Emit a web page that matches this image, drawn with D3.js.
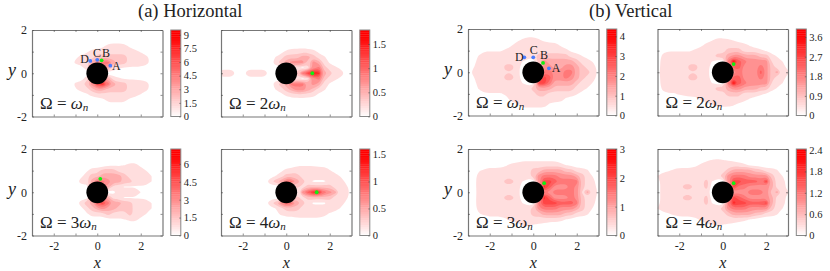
<!DOCTYPE html>
<meta charset="utf-8">
<style>
  body { margin: 0; background: #fff; }
  text { font-family: "Liberation Serif", serif; fill: #222; }
  .domain { stroke: #777; stroke-width: 1.2; }
  .tick line { stroke: #444; stroke-width: 0.6; }
</style>
<script src="https://d3js.org/d3.v7.min.js"></script>
<div id="chart"></div>
<script>
// Grid of the fields, in tenths of each colourbar's top
const gridX = [-3,-2.75,-2.5,-2.25,-2,-1.75,-1.5,-1.25,-1,-.75,-.5,-.25,0,.25,.5,.75,1,1.25,1.5,1.75,2,2.25,2.5,2.75,3];
const gridY = [1.75,1.5,1.25,1,.75,.5,.25,0,-.25,-.5,-.75,-1,-1.25,-1.5,-1.75];

const fieldA1 = [
[0,0,0,0,0,0,0,0,0,0,0,0,0,0,0,0,0,0,0,0,0,0,0,0,0],
[0,0,0,0,0,0,0,0,0,0,0,0,0,0,0,0,0,0,0,0,0,0,0,0,0],
[0,0,0,0,0,0,0,0,0,0,0,0,0,.3,.9,1,1,.9,.3,0,0,0,0,0,0],
[0,0,0,0,0,0,0,0,0,0,.3,.8,1,1,1,1,1,1,1,.8,.4,0,0,0,0],
[0,0,0,0,0,0,0,0,.3,.8,1,1,2,2,2,2,2,2,1,1,1,.7,.2,0,0],
[0,0,0,0,0,0,0,0,.7,1,1,3,4,5,5,3,2,2,1,1,1,.9,.2,0,0],
[0,0,0,0,0,0,0,0,0,0,1,3,4,4,3,1,.6,.4,.4,.4,.3,.1,0,0,0],
[0,0,0,0,0,0,0,0,0,0,0,0,0,0,0,0,0,0,0,0,0,0,0,0,0],
[0,0,0,0,0,0,0,0,0,0,1,3,4,4,3,1,.6,.4,.4,.4,.3,.1,0,0,0],
[0,0,0,0,0,0,0,0,.7,1,2,4,7,8,5,3,2,2,1,1,1,.9,.2,0,0],
[0,0,0,0,0,0,0,0,.4,.8,1,2,3,3,2,2,2,2,1,1,1,.7,.2,0,0],
[0,0,0,0,0,0,0,0,0,0,.3,.7,1,1,1,1,1,1,1,.8,.4,0,0,0,0],
[0,0,0,0,0,0,0,0,0,0,0,0,0,.2,.7,.8,.8,.7,.2,0,0,0,0,0,0],
[0,0,0,0,0,0,0,0,0,0,0,0,0,0,0,0,0,0,0,0,0,0,0,0,0],
[0,0,0,0,0,0,0,0,0,0,0,0,0,0,0,0,0,0,0,0,0,0,0,0,0]];

const fieldA2 = [
[0,0,0,0,0,0,0,0,0,0,0,0,0,0,0,0,0,0,0,0,0,0,0,0,0],
[0,0,0,0,0,0,0,0,0,0,0,0,0,0,0,0,0,0,0,0,0,0,0,0,0],
[0,0,0,0,0,0,0,0,0,0,0,0,0,0,0,0,0,0,0,0,0,0,0,0,0],
[0,0,0,0,0,0,0,0,0,0,0,.2,.7,1,1,1.2,1,.8,.3,0,0,0,0,0,0],
[0,0,0,0,0,0,0,0,0,0,.5,1,2,2,2,3,3,2,1,.6,.1,0,0,0,0],
[0,0,0,0,0,0,0,0,0,0,1,2,3,4,4,4,2,4,3,1,.4,0,0,0,0],
[0,0,0,0,0,0,0,0,0,0,0,0,0,0,1,.2,1,4,5,2,1,.7,.3,0,0],
[1.4,1.4,1.4,0,0,1.4,1.4,1.4,1.4,0,0,0,0,0,2,5,7,9,8,3,2,1,1,.3,0],
[0,0,0,0,0,0,0,0,0,0,0,0,0,0,1,.2,1,4,5,2,1,.7,.3,0,0],
[0,0,0,0,0,0,0,0,0,0,1,2,3,5,5,5,3,4,3,1,.4,0,0,0,0],
[0,0,0,0,0,0,0,0,0,0,.5,1,2,3,4,4,3,2,1,.6,.1,0,0,0,0],
[0,0,0,0,0,0,0,0,0,0,0,.2,.7,1,1,1.2,1,.8,.3,0,0,0,0,0,0],
[0,0,0,0,0,0,0,0,0,0,0,0,0,0,0,0,0,0,0,0,0,0,0,0,0],
[0,0,0,0,0,0,0,0,0,0,0,0,0,0,0,0,0,0,0,0,0,0,0,0,0],
[0,0,0,0,0,0,0,0,0,0,0,0,0,0,0,0,0,0,0,0,0,0,0,0,0]];

const fieldA3 = [
[0,0,0,0,0,0,0,0,0,0,0,0,0,0,0,0,0,0,0,0,0,0,0,0,0],
[0,0,0,0,0,0,0,0,0,0,0,0,0,0,0,0,0,0,0,0,0,0,0,0,0],
[0,0,0,0,0,0,0,0,0,0,0,0,0,0,.3,.4,.4,.5,.8,.8,.3,0,0,0,0],
[0,0,0,0,0,0,0,0,0,0,.3,1,1,2,2,2,1,1,1,1,1,.5,0,0,0],
[0,0,0,0,0,0,0,0,0,.2,1,2,2,3,3,3,3,2,1,1,1,1,.5,0,0],
[0,0,0,0,0,0,0,0,0,1,1,3,5,5,4,3,3,2,2,1,1,1,.5,0,0],
[0,0,0,0,0,0,0,0,0,0,0,3,4,4,3,1,.8,.4,.4,.4,.4,.3,0,0,0],
[0,0,0,0,0,0,0,0,0,0,0,0,0,0,0,.2,1,1.2,1.2,1.2,.5,0,0,0,0],
[0,0,0,0,0,0,0,0,0,0,0,3,4,4,3,1,.8,.4,.4,.4,.4,.3,0,0,0],
[0,0,0,0,0,0,0,0,0,1,2,3,6,7,5,3,3,2,2,1,1,1,.5,0,0],
[0,0,0,0,0,0,0,0,0,.2,1,2,3,4,3,3,2,2,2,1,1,1,.5,0,0],
[0,0,0,0,0,0,0,0,0,0,.3,1,1,1,2,1,1,1,2,1,1,.5,0,0,0],
[0,0,0,0,0,0,0,0,0,0,0,0,0,0,.3,.4,.4,.5,.8,.8,.3,0,0,0,0],
[0,0,0,0,0,0,0,0,0,0,0,0,0,0,0,0,0,0,0,0,0,0,0,0,0],
[0,0,0,0,0,0,0,0,0,0,0,0,0,0,0,0,0,0,0,0,0,0,0,0,0]];

const fieldA4 = [
[0,0,0,0,0,0,0,0,0,0,0,0,0,0,0,0,0,0,0,0,0,0,0,0,0],
[0,0,0,0,0,0,0,0,0,0,0,0,0,0,0,0,0,0,0,0,0,0,0,0,0],
[0,0,0,0,0,0,0,0,0,0,0,0,0,0,.4,.4,.4,.4,.3,.3,0,0,0,0,0],
[0,0,0,0,0,0,0,0,0,0,0,.3,.8,1,1,1,1,1,1,1,.6,.1,0,0,0],
[0,0,0,0,0,0,0,0,0,.1,.5,1,2,2,2,1,1,1,1,1,1,1,.4,0,0],
[0,0,0,0,0,0,0,0,0,1,2,3,5,5,3,2,1,.3,.3,.3,1,1,1,.3,0],
[0,0,0,0,0,0,0,0,0,0,0,0,0,0,2,1,2,2,2,2,2,1,1,.7,.1],
[0,0,0,0,0,0,0,0,0,0,0,0,0,0,0,4,6,8,8,5,4,3,1,.9,.2],
[0,0,0,0,0,0,0,0,0,0,0,0,0,0,2,1,2,2,2,2,2,1,1,.7,.1],
[0,0,0,0,0,0,0,0,0,1,2,4,6,5,3,2,1,.3,.3,.3,1,1,1,.3,0],
[0,0,0,0,0,0,0,0,0,.1,.5,1,2,2,2,1,1,1,1,1,1,1,.4,0,0],
[0,0,0,0,0,0,0,0,0,0,.1,.7,1,1,1,1,1,1,1,.7,.4,0,0,0,0],
[0,0,0,0,0,0,0,0,0,0,0,0,0,0,.3,.3,.3,.3,.3,.3,0,0,0,0,0],
[0,0,0,0,0,0,0,0,0,0,0,0,0,0,0,0,0,0,0,0,0,0,0,0,0],
[0,0,0,0,0,0,0,0,0,0,0,0,0,0,0,0,0,0,0,0,0,0,0,0,0]];

const fieldB1 = [
[0,0,0,0,0,0,0,0,0,0,0,0,0,0,0,0,0,0,0,0,0,0,0,0,0],
[0,0,0,0,0,0,0,0,0,.2,.6,1,1,.6,.2,0,0,0,0,0,0,0,0,0,0],
[0,0,0,0,0,0,0,0,.4,1,1,1,1,1,1,1,1,.4,0,0,0,0,0,0,0],
[0,0,0,.4,.4,.4,.4,.7,1,1,1,1,1,1,1,1,1,1,.8,.3,0,0,0,0,0],
[0,0,.6,1,1,1,1,1,1,1,1,1,1,2,2,2,2,2,2,1,1,.5,0,0,0],
[0,0,1,1,1,1,1,1,1,1,.5,0,0,2,4,3,3,3,3,3,2,1,1,.4,0],
[0,.4,1,1,1,1,1,2,2,1,0,0,0,0,4,4,3,3,4,4,3,2,1,1,0],
[0,.8,1,1,1,1,1,1.4,1.4,1,0,0,0,0,5,5,4,4,5,5,3,2,2,1,.3],
[0,.4,1,1,1,1,1,2,2,1,0,0,0,0,7,6,4,4,5,4,3,2,1,1,0],
[0,0,1,1,1,1,1,1,1,1,.5,0,0,7,7,5,3,3,3,3,2,1,1,.4,0],
[0,0,.6,1,1,1,1,1,1,1,1,1,2,3,3,3,2,2,2,2,1,1,.4,0,0],
[0,0,0,.4,.4,.4,.4,.7,1,1,1,1,1,2,2,1,1,1,1,1,.6,0,0,0,0],
[0,0,0,0,0,0,0,0,1,1,1,1,1,1,1,1,1,1,.3,0,0,0,0,0,0],
[0,0,0,0,0,0,0,0,0,.2,1,1,1,1,1,.3,0,0,0,0,0,0,0,0,0],
[0,0,0,0,0,0,0,0,0,0,0,0,0,0,0,0,0,0,0,0,0,0,0,0,0]];

const fieldB2 = [
[0,0,0,0,0,0,0,0,0,0,0,0,0,0,0,0,0,0,0,0,0,0,0,0,0],
[0,0,0,0,0,0,0,0,0,0,.4,.7,.7,.6,.4,0,0,0,0,0,0,0,0,0,0],
[0,0,0,0,0,0,0,0,.3,.8,1,1,1,1,1,1,.8,.4,0,0,0,0,0,0,0],
[0,.3,.4,.4,.4,.4,.4,.7,1,1,1,1,1,2,2,2,1,1,1,.7,.4,0,0,0,0],
[0,.7,1,1,1,1,1,1,1,1,1,2,2,3,4,4,3,3,3,2,2,1,.4,0,0],
[0,1,1,1,1,1,1,1,1,1,.5,0,0,5,9,6,5,4,4,4,4,1.5,1,.5,0],
[0,1,1,1,1,1,2,2,1,1,0,0,0,0,6,6,4,4,4,5,4,2,1,1,0],
[.2,1,1,1,1,1,1.4,1.4,1,1,0,0,0,0,4,5,4,4,4,6,4,2,3,1,.7],
[0,1,1,1,1,1,2,2,1,1,0,0,0,0,6,6,4,4,4,5,4,2,1,1,0],
[0,1,1,1,1,1,1,1,1,1,.5,0,0,5,9,6,5,4,4,4,4,1.5,1,.5,0],
[0,.7,1,1,1,1,1,1,1,1,1,2,2,3,4,4,3,3,3,2,2,1,.4,0,0],
[0,.3,.4,.4,.6,.8,1,1,1,1,1,1,1,2,2,2,1,1,1,.7,.4,0,0,0,0],
[0,0,0,0,0,0,0,0,.7,1,1,1,1,1,1,1,.8,.4,0,0,0,0,0,0,0],
[0,0,0,0,0,0,0,0,0,0,.5,.8,.8,.8,.6,.3,0,0,0,0,0,0,0,0,0],
[0,0,0,0,0,0,0,0,0,0,0,0,0,0,0,0,0,0,0,0,0,0,0,0,0]];

const fieldB3 = [
[0,0,0,0,0,0,0,0,0,0,0,0,0,0,0,0,0,0,0,0,0,0,0,0,0],
[0,0,0,0,0,0,0,0,0,0,.3,.3,.3,.3,.3,.3,.3,0,0,0,0,0,0,0,0],
[0,0,0,0,0,0,0,.4,.8,1,1,1,1,1,1,1,1,.9,.5,.3,0,0,0,0,0],
[0,0,.4,.7,1,1,1,1,1,1,1,1,2,2,3,3,3,3,2,2,1,1,.6,0,0],
[.5,0,.9,1,1,1,1,1,1,1,1,1,2,4,5,5,5,4,4,4,3,2,1,.4,0],
[0,0,1,1,1,1,1,2,2,1,.5,0,0,4,7,7,6,5,5,5,5,2,1,.8,0],
[0,0,1,1,1,1,1,1,1,1,0,0,0,0,8,6,4,4,4,5,4,2,1,1,0],
[0,0,.9,1,1,1,1,1,1,1,0,0,0,0,5,4,5,5,5,5,4,1.4,3,1,.4],
[0,0,1,1,1,1,1,2,2,1,0,0,0,0,8,6,4,4,4,5,4,2,1,1,0],
[0,0,1,1,1,1,1,1,1,1,.5,0,0,5,7,7,7,6,6,6,5,2,1,.8,0],
[.5,0,.9,1,1,1,1,1,1,1,1,1,2,4,5,5,5,4,4,4,3,2,1,.4,0],
[0,0,.4,.7,1,1,1,1,1,1,1,1,2,2,3,3,3,3,2,2,1,1,.6,0,0],
[0,0,0,0,0,0,0,.4,.9,1,1,1,1,1,1,1,1,.9,.5,.3,0,0,0,0,0],
[0,0,0,0,0,0,0,0,0,0,.7,.7,.5,.4,.3,0,0,0,0,0,0,0,0,0,0],
[0,0,0,0,0,0,0,0,0,0,0,0,0,0,0,0,0,0,0,0,0,0,0,0,0]];

const fieldB4 = [
[0,0,0,0,0,0,0,0,0,0,0,0,0,0,0,0,0,0,0,0,0,0,0,0,0],
[0,0,0,0,0,0,0,0,0,.3,.5,.6,.5,.4,.3,0,0,0,0,0,0,0,0,0,0],
[0,0,0,0,0,0,0,.3,.7,1,1,1,1,1,1,1,.7,.4,.3,0,0,0,0,0,0],
[0,.3,.4,.7,.9,1,1,1,1,1,1,1,1,2,3,3,3,3,2,2,1,1,.6,0,0],
[.5,.8,1,1,1,1,1,1,1,1,1,1,2,4,5,5,5,4,4,4,4,2,1,.5,0],
[0,1,1,1,1,1,1,1,1,2,.5,0,0,4,7,7,6,6,6,5,7,3,1,1,0],
[0,1,1,1,1,2,2,1,1,2,0,0,0,0,7,5,5,4,4,4,4,3,1,1,0],
[0,1,1,1,1,1,1,1,1,1,0,0,0,0,4,4,4,5,5,5,4,2,3,1,.6],
[0,1,1,1,1,2,2,1,1,2,0,0,0,0,7,6,5,4,4,4,4,3,1,1,0],
[0,1,1,1,1,1,1,1,1,2,.5,0,0,5,8,7,7,6,6,6,7,3,1,1,0],
[.5,.8,1,1,1,1,1,1,1,1,1,1,2,4,5,5,5,4,4,4,4,2,1,.5,0],
[0,.3,.4,.7,.9,1,1,1,1,1,1,1,1,2,3,3,3,3,2,2,1,1,.6,0,0],
[0,0,0,0,0,0,0,.3,.7,1,1,1,1,1,1,1,.8,.5,.3,0,0,0,0,0,0],
[0,0,0,0,0,0,0,0,0,.3,.5,.6,.5,.4,.3,0,0,0,0,0,0,0,0,0,0],
[0,0,0,0,0,0,0,0,0,0,0,0,0,0,0,0,0,0,0,0,0,0,0,0,0]];

// Colourbar tops and ticks
const zmaxes = [9.52, 1.79, 7.24, 1.6, 4.37, 3.97, 3, 2.43];
const barTicks = [
  [0,1.5,3,4.5,6,7.5,9], [0,.5,1,1.5], [0,1.5,3,4.5,6], [0,.5,1,1.5],
  [0,1,2,3,4], [0,.9,1.8,2.7,3.6], [0,1,2,3], [0,.6,1.2,1.8,2.4]
];
const fields = [fieldA1, fieldA2, fieldA3, fieldA4, fieldB1, fieldB2, fieldB3, fieldB4];
const omegaLabels = ["", "2", "3", "4", "", "2", "3", "4"];

// Probe points
const bluePoints = [
  [[.6,.35],[0,.62],[-.32,.57]], [], [], [],
  [[.72,.18],[0,.69],[-.41,.69]], [], [], []
];
const greenPoints = [[.2,.6],[1.2,0],[.14,.62],[1.4,0],[.45,.43],[.5,.38],[.5,.42],[.5,.42]];
const pointLabels = [
  [["A",.68,.15],["B",.22,.74],["C",-.2,.74],["D",-.78,.46]], [], [], [],
  [["A",.85,0],["B",.31,.6],["C",-.16,.84],["D",-.84,.53]], [], [], []
];

// Panel corners in pixels
const panelX = [32, 221, 32, 221, 468, 657.5, 468, 657.5];
const panelY = [30, 30, 149, 149, 29, 29, 149, 149];
const pw = 130.5, ph = 86.5, barGap = 8.3, barW = 10;

const svg = d3.select("#chart").append("svg").attr("width", 830).attr("height", 271);

const x = d3.scaleLinear().domain([-3, 3]).range([0, pw]);
const y = d3.scaleLinear().domain([-2, 2]).range([ph, 0]);
const red = t => d3.interpolateRgb("#ffffff", "#ff0000")(Math.min(1, t));

// grid cell centres sit at i + 0.5 in d3.contours coordinates, rings are drawn rounded
const ringLine = d3.line()
  .x(p => x(gridX[0] + (p[0] - .5) * .25))
  .y(p => y(gridY[0] - (p[1] - .5) * .25))
  .curve(d3.curveBasisClosed);
const contourPath = c => c.coordinates.flat().map(ring => ringLine(ring.slice(1))).join("");
const levels = d3.range(1, 11);
const tickText = d => d % 2 === 0 ? (d < 0 ? "-" + (-d) : d) : "";

svg.append("defs").append("clipPath").attr("id", "plot")
  .append("rect").attr("width", pw).attr("height", ph);

fields.forEach((field, i) => {
  const g = svg.append("g").attr("transform", `translate(${panelX[i]},${panelY[i]})`);
  const isBottom = i === 2 || i === 3 || i === 6 || i === 7;
  const isLeft = i === 0 || i === 2 || i === 4 || i === 6;

  const contours = d3.contours()
    .size([gridX.length, gridY.length])
    .thresholds(levels.map(k => k - .5))(field.flat());

  g.append("g").attr("clip-path", "url(#plot)")
    .style("filter", "blur(0.5px)")
    .selectAll("path")
    .data(contours)
    .join("path")
      .attr("d", contourPath)
      .attr("fill-rule", "evenodd")
      .attr("fill", (d, k) => red((k + 1.3) / 10));

  // cylinder
  g.append("circle").attr("cx", x(0)).attr("cy", y(0))
    .attr("r", x(.5) - x(0)).attr("fill", "#000");

  // axes, ticks inward on all four sides
  const xTicks = [-2, -1, 0, 1, 2], yTicks = [-2, -1, 0, 1, 2];
  g.append("g").attr("transform", `translate(0,${ph})`)
    .call(d3.axisBottom(x).tickValues(xTicks).tickSizeInner(-2).tickSizeOuter(0)
      .tickPadding(6)
      .tickFormat(d => isBottom ? tickText(d) : ""))
    .call(s => s.selectAll("text").attr("font-size", 12).attr("fill", "#222"));
  g.append("g")
    .call(d3.axisTop(x).tickValues(xTicks).tickSizeInner(-2).tickSizeOuter(0).tickFormat(""));
  g.append("g")
    .call(d3.axisLeft(y).tickValues(yTicks).tickSizeInner(-2).tickSizeOuter(0)
      .tickPadding(5)
      .tickFormat(d => isLeft ? tickText(d) : ""))
    .call(s => s.selectAll("text").attr("font-size", 12).attr("fill", "#222"));
  g.append("g").attr("transform", `translate(${pw},0)`)
    .call(d3.axisRight(y).tickValues(yTicks).tickSizeInner(-2).tickSizeOuter(0).tickFormat(""));

  // probe points
  g.selectAll("circle.blue").data(bluePoints[i]).join("circle").attr("class", "blue")
    .attr("cx", d => x(d[0])).attr("cy", d => y(d[1])).attr("r", 1.9).attr("fill", "#4a7dff");
  g.append("circle").attr("cx", x(greenPoints[i][0])).attr("cy", y(greenPoints[i][1]))
    .attr("r", 1.9).attr("fill", "#12ee12");
  g.selectAll("text.pt").data(pointLabels[i]).join("text").attr("class", "pt")
    .attr("x", d => x(d[1])).attr("y", d => y(d[2]))
    .attr("font-size", 12).text(d => d[0]);

  // frequency label
  const om = g.append("text").attr("x", 8).attr("y", ph - 8).attr("font-size", 17);
  om.append("tspan").text(`\u03A9 = ${omegaLabels[i]}`);
  om.append("tspan").attr("font-style", "italic").text("\u03C9");
  om.append("tspan").attr("font-style", "italic").attr("font-size", 11).attr("dy", 2.5).text("n");

  // axis names
  if (isLeft) g.append("text").attr("x", -24).attr("y", ph / 2 + 3)
    .attr("font-size", 18).attr("font-style", "italic").text("y");
  if (isBottom) g.append("text").attr("x", pw / 2).attr("y", ph + 32)
    .attr("text-anchor", "middle").attr("font-size", 16).attr("font-style", "italic").text("x");

  // colourbar
  const zmax = zmaxes[i];
  const bar = g.append("g").attr("transform", `translate(${pw + barGap},0)`);
  const cy = d3.scaleLinear().domain([0, zmax]).range([ph, 0]);
  bar.selectAll("rect").data(d3.range(0, 40)).join("rect")
    .attr("x", 0).attr("width", barW)
    .attr("y", k => ph * (1 - (k + 1) / 40)).attr("height", ph / 40 + .3)
    .attr("fill", k => red((k + .5) / 40 * 1.08));
  bar.append("rect").attr("width", barW).attr("height", ph)
    .attr("fill", "none").attr("stroke", "#888").attr("stroke-width", 1);
  bar.append("g").attr("transform", `translate(${barW},0)`)
    .call(d3.axisRight(cy).tickValues(barTicks[i]).tickSizeInner(-1.5).tickSizeOuter(0)
      .tickPadding(3).tickFormat(d => d))
    .call(s => s.select(".domain").remove())
    .call(s => s.selectAll("text").attr("font-size", 10.5).attr("fill", "#333"));
});

// column titles
svg.append("text").attr("x", 138).attr("y", 17).attr("font-size", 18.5).text("(a) Horizontal");
svg.append("text").attr("x", 589).attr("y", 17).attr("font-size", 18.5).text("(b) Vertical");
</script>
</html>
